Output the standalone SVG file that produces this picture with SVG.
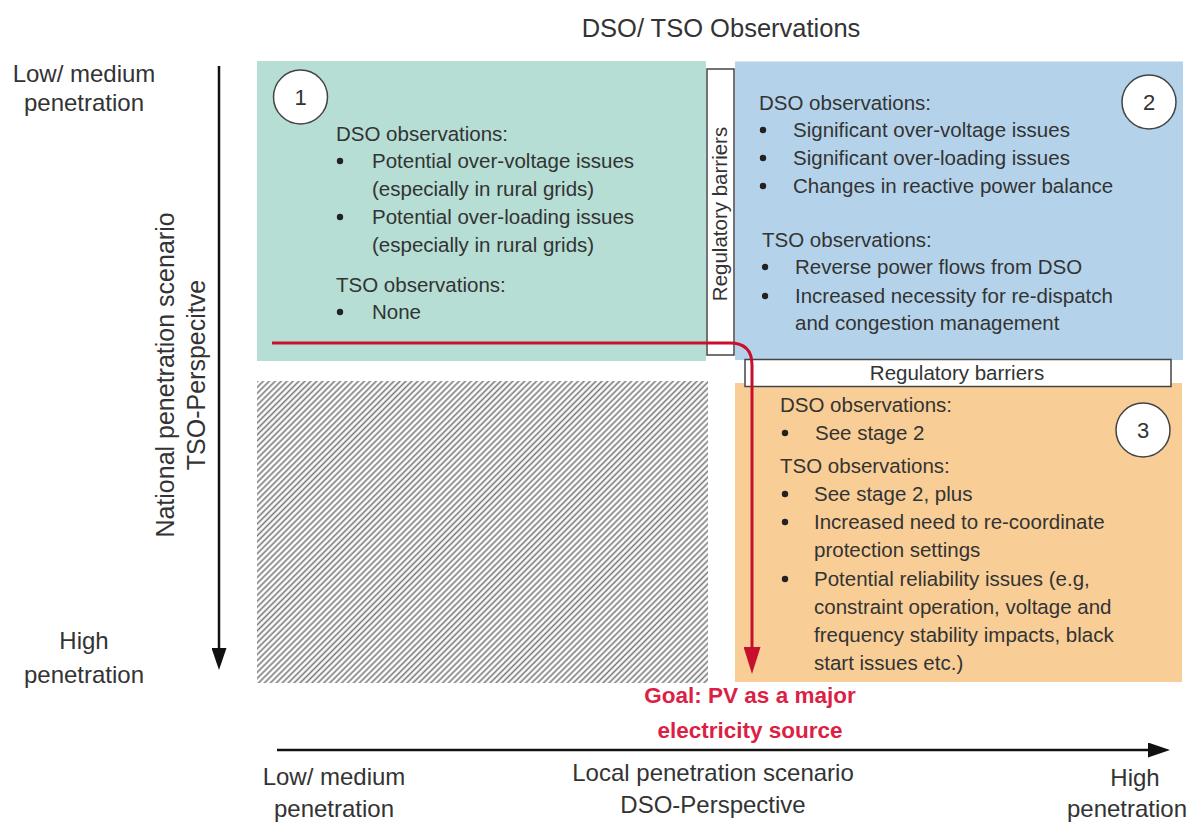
<svg xmlns="http://www.w3.org/2000/svg" width="1189" height="823" viewBox="0 0 1189 823">
<style>
  text { font-family: "Liberation Sans", Arial, sans-serif; fill: #333; }
  .b { font-size: 20.5px; }
  .lbl { font-size: 24px; }
  .vlbl { font-size: 25px; }
  .title { font-size: 25.5px; }
  .goal { font-size: 22.5px; font-weight: bold; fill: #dc1f45; }
  .num { font-size: 22px; }
  .dot { fill: #222; }
  .badge { fill: #fff; stroke: #444; stroke-width: 1.5; }
  .barrier { fill: #fff; stroke: #444; stroke-width: 1.5; }
  .axis { stroke: #111; stroke-width: 2.5; fill: none; }
  .flow { stroke: #c8102e; stroke-width: 3; fill: none; }
</style>
<defs>
  <marker id="ah" markerUnits="userSpaceOnUse" markerWidth="22" markerHeight="15" refX="12" refY="7.5" orient="auto">
    <path d="M0,0 L22,7.5 L0,15 z" fill="#111"/>
  </marker>
  <marker id="ahr" markerUnits="userSpaceOnUse" markerWidth="27" markerHeight="17" refX="16" refY="8.5" orient="auto">
    <path d="M0,0 L27,8.5 L0,17 z" fill="#c8102e"/>
  </marker>
  <pattern id="hatch" patternUnits="userSpaceOnUse" width="4.2" height="4.2" patternTransform="rotate(45)">
    <line x1="2.1" y1="0" x2="2.1" y2="4.2" stroke="#7a7a7a" stroke-width="1.6"/>
  </pattern>
</defs>
<rect width="1189" height="823" fill="#fff"/>

<g id="title">
  <text class="title" x="721" y="37" text-anchor="middle">DSO/ TSO Observations</text>
</g>

<g id="y-axis">
  <line class="axis" x1="219" y1="66" x2="219" y2="660" marker-end="url(#ah)"/>
  <text class="lbl" x="84" y="82" text-anchor="middle">Low/ medium</text>
  <text class="lbl" x="84" y="111" text-anchor="middle">penetration</text>
  <text class="lbl" x="84" y="649" text-anchor="middle">High</text>
  <text class="lbl" x="84" y="683" text-anchor="middle">penetration</text>
  <text class="vlbl" transform="translate(174,375) rotate(-90)" text-anchor="middle">National penetration scenario</text>
  <text class="vlbl" transform="translate(205,375) rotate(-90)" text-anchor="middle">TSO-Perspecitve</text>
</g>

<g id="x-axis">
  <line class="axis" x1="277" y1="750" x2="1160" y2="750" marker-end="url(#ah)"/>
  <text class="lbl" x="334" y="785" text-anchor="middle">Low/ medium</text>
  <text class="lbl" x="334" y="817" text-anchor="middle">penetration</text>
  <text class="lbl" x="713" y="781" text-anchor="middle">Local penetration scenario</text>
  <text class="lbl" x="713" y="813" text-anchor="middle">DSO-Perspective</text>
  <text class="lbl" x="1135" y="786" text-anchor="middle">High</text>
  <text class="lbl" x="1127" y="817" text-anchor="middle">penetration</text>
</g>

<g id="stage1">
  <rect x="257" y="61" width="449" height="300" fill="#b6ded4"/>
  <circle class="badge" cx="300.5" cy="97" r="27"/>
  <text class="num" x="300.5" y="105" text-anchor="middle">1</text>
  <text class="b" x="336" y="141">DSO observations:</text>
  <circle class="dot" cx="340" cy="161" r="3.2"/>
  <text class="b" x="372" y="168">Potential over-voltage issues</text>
  <text class="b" x="372" y="195.5">(especially in rural grids)</text>
  <circle class="dot" cx="340" cy="217" r="3.2"/>
  <text class="b" x="372" y="224">Potential over-loading issues</text>
  <text class="b" x="372" y="251.5">(especially in rural grids)</text>
  <text class="b" x="336" y="291.5">TSO observations:</text>
  <circle class="dot" cx="340" cy="312" r="3.2"/>
  <text class="b" x="372" y="319">None</text>
</g>

<g id="stage2">
  <rect x="735" y="61.5" width="448" height="298.5" fill="#b4d3ea"/>
  <circle class="badge" cx="1149" cy="102" r="27"/>
  <text class="num" x="1149" y="110" text-anchor="middle">2</text>
  <text class="b" x="759" y="110">DSO observations:</text>
  <circle class="dot" cx="763" cy="130" r="3.2"/>
  <text class="b" x="793" y="137">Significant over-voltage issues</text>
  <circle class="dot" cx="763" cy="158" r="3.2"/>
  <text class="b" x="793" y="165">Significant over-loading issues</text>
  <circle class="dot" cx="763" cy="186" r="3.2"/>
  <text class="b" x="793" y="193">Changes in reactive power balance</text>
  <text class="b" x="762" y="246.5">TSO observations:</text>
  <circle class="dot" cx="765" cy="267" r="3.2"/>
  <text class="b" x="795" y="274">Reverse power flows from DSO</text>
  <circle class="dot" cx="765" cy="296" r="3.2"/>
  <text class="b" x="795" y="302.5">Increased necessity for re-dispatch</text>
  <text class="b" x="795" y="330">and congestion management</text>
</g>

<g id="stage3">
  <rect x="735" y="383" width="447" height="299" fill="#f8ce96"/>
  <circle class="badge" cx="1143" cy="430" r="27"/>
  <text class="num" x="1143" y="438" text-anchor="middle">3</text>
  <text class="b" x="780" y="412">DSO observations:</text>
  <circle class="dot" cx="785" cy="433" r="3.2"/>
  <text class="b" x="815" y="440">See stage 2</text>
  <text class="b" x="780" y="472.5">TSO observations:</text>
  <circle class="dot" cx="785" cy="494" r="3.2"/>
  <text class="b" x="814" y="501">See stage 2, plus</text>
  <circle class="dot" cx="785" cy="522" r="3.2"/>
  <text class="b" x="814" y="529">Increased need to re-coordinate</text>
  <text class="b" x="814" y="557">protection settings</text>
  <circle class="dot" cx="785" cy="579" r="3.2"/>
  <text class="b" x="814" y="586">Potential reliability issues (e.g,</text>
  <text class="b" x="814" y="613.5">constraint operation, voltage and</text>
  <text class="b" x="814" y="641.5">frequency stability impacts, black</text>
  <text class="b" x="814" y="669.5">start issues etc.)</text>
</g>

<g id="hatched-area">
  <rect x="257" y="381" width="451" height="302" fill="url(#hatch)"/>
</g>

<g id="barrier-vertical">
  <rect class="barrier" x="707" y="69" width="27" height="286"/>
  <text class="b" transform="translate(727,214) rotate(-90)" text-anchor="middle">Regulatory barriers</text>
</g>

<g id="barrier-horizontal">
  <rect class="barrier" x="745" y="359.5" width="426" height="27"/>
  <text class="b" x="957" y="380" text-anchor="middle">Regulatory barriers</text>
</g>

<g id="connectors">
  <path class="flow" d="M272,343 H730 Q752,343 752,365 V663" marker-end="url(#ahr)"/>
</g>

<g id="goal">
  <text class="goal" x="750" y="703" text-anchor="middle">Goal: PV as a major</text>
  <text class="goal" x="750" y="738" text-anchor="middle">electricity source</text>
</g>
</svg>
